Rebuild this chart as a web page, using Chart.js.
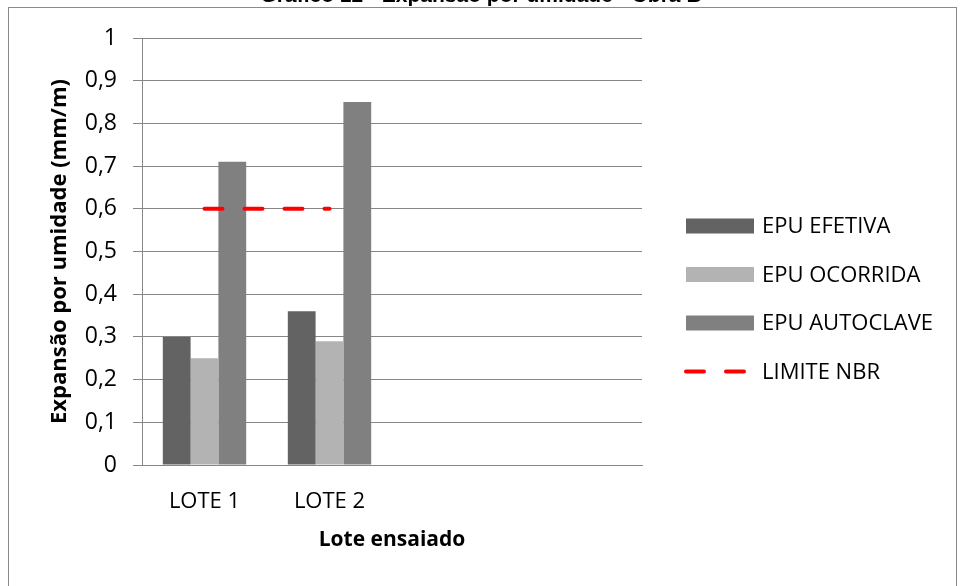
<!DOCTYPE html>
<html>
<head>
<meta charset="utf-8">
<script src="https://cdn.jsdelivr.net/npm/chart.js@4/dist/chart.umd.min.js"></script>
<style>
  html, body { margin: 0; padding: 0; background: #fff; }
  #wrap { width: 961px; height: 586px; }
</style>
</head>
<body>
<div id="wrap"><canvas id="epuChart" width="961" height="586"></canvas></div>
<script>
// data
const titleText = 'Gráfico 12 - Expansão por umidade - Obra B';
const lotes = ['LOTE 1', 'LOTE 2', '', ''];
const epuEfetiva = [0.30, 0.36];
const epuOcorrida = [0.25, 0.29];
const epuAutoclave = [0.71, 0.85];
const limiteNbr = [0.6, 0.6];
const yTicks = [0, 0.1, 0.2, 0.3, 0.4, 0.5, 0.6, 0.7, 0.8, 0.9, 1];

const FONT = "'Open Sans', sans-serif";

// border around the whole chart + the cut title at the top
const frame = {
  id: 'frame',
  beforeDraw(chart) {
    const ctx = chart.ctx;
    ctx.save();
    ctx.fillStyle = '#fff';
    ctx.fillRect(0, 0, chart.width, chart.height);
    ctx.strokeStyle = '#8a8a8a';
    ctx.lineWidth = 1;
    ctx.strokeRect(8.5, 7.5, 948, 600);
    ctx.fillStyle = '#000';
    ctx.font = "bold 21px 'Liberation Sans', Arial, sans-serif";
    ctx.textAlign = 'center';
    ctx.textBaseline = 'alphabetic';
    ctx.fillText(titleText, 481, 2);
    ctx.restore();
  }
};

// Excel-like legend on the right
const sideLegend = {
  id: 'sideLegend',
  afterDraw(chart) {
    const ctx = chart.ctx;
    const x0 = 686, y0 = 226, step = 48.5;
    ctx.save();
    ctx.font = '22px ' + FONT;
    ctx.textBaseline = 'middle';
    ctx.textAlign = 'left';
    chart.data.datasets.forEach((ds, i) => {
      const y = y0 + i * step;
      if (ds.type === 'line') {
        ctx.strokeStyle = ds.borderColor;
        ctx.lineWidth = ds.borderWidth;
        ctx.lineCap = 'round';
        ctx.setLineDash(ds.borderDash);
        ctx.beginPath();
        ctx.moveTo(x0, y);
        ctx.lineTo(x0 + 60, y);
        ctx.stroke();
        ctx.setLineDash([]);
      } else {
        ctx.fillStyle = ds.backgroundColor;
        ctx.fillRect(x0, y - 7.5, 68, 15);
      }
      ctx.fillStyle = '#000';
      ctx.fillText(ds.label, 762, y + 1);
    });
    ctx.restore();
  }
};

new Chart(document.getElementById('epuChart'), {
  data: {
    labels: lotes,
    datasets: [
      { type: 'bar', label: 'EPU EFETIVA', data: epuEfetiva, backgroundColor: '#636363', order: 1 },
      { type: 'bar', label: 'EPU OCORRIDA', data: epuOcorrida, backgroundColor: '#b3b3b3', order: 1 },
      { type: 'bar', label: 'EPU AUTOCLAVE', data: epuAutoclave, backgroundColor: '#808080', order: 1 },
      {
        type: 'line', label: 'LIMITE NBR', data: limiteNbr,
        borderColor: '#ff0000', borderWidth: 4, borderDash: [18, 22],
        borderCapStyle: 'round', pointRadius: 0, fill: false, order: 0
      }
    ]
  },
  plugins: [frame, sideLegend],
  options: {
    responsive: false,
    animation: false,
    datasets: {
      bar: { categoryPercentage: 0.667, barPercentage: 1 }
    },
    layout: { padding: { left: 8, right: 319, top: 38, bottom: 21 } },
    plugins: {
      legend: { display: false },
      title: { display: false },
      tooltip: { enabled: false }
    },
    scales: {
      x: {
        afterFit(scale) { scale.height = 100; },
        grid: { display: false, drawTicks: false },
        border: { display: true, color: '#868686', width: 1 },
        ticks: { color: '#000', font: { family: FONT, size: 22 }, padding: 24, maxRotation: 0 },
        title: {
          display: true, text: 'Lote ensaiado', color: '#000',
          font: { family: FONT, size: 21, weight: 'bold' }, padding: 12
        }
      },
      y: {
        min: 0, max: 1,
        afterFit(scale) { scale.width = 134; },
        afterBuildTicks(scale) { scale.ticks = yTicks.map(v => ({ value: v })); },
        grid: { color: '#868686', lineWidth: 1, tickLength: 9, drawTicks: true },
        border: { display: true, color: '#868686', width: 1 },
        ticks: {
          color: '#000', font: { family: FONT, size: 23 }, padding: 16,
          callback: v => String(Math.round(v * 10) / 10).replace('.', ',')
        },
        title: {
          display: true, text: 'Expansão por umidade (mm/m)', color: '#000',
          font: { family: FONT, size: 22, weight: 'bold' }, padding: 39
        }
      }
    }
  }
});
</script>
</body>
</html>
